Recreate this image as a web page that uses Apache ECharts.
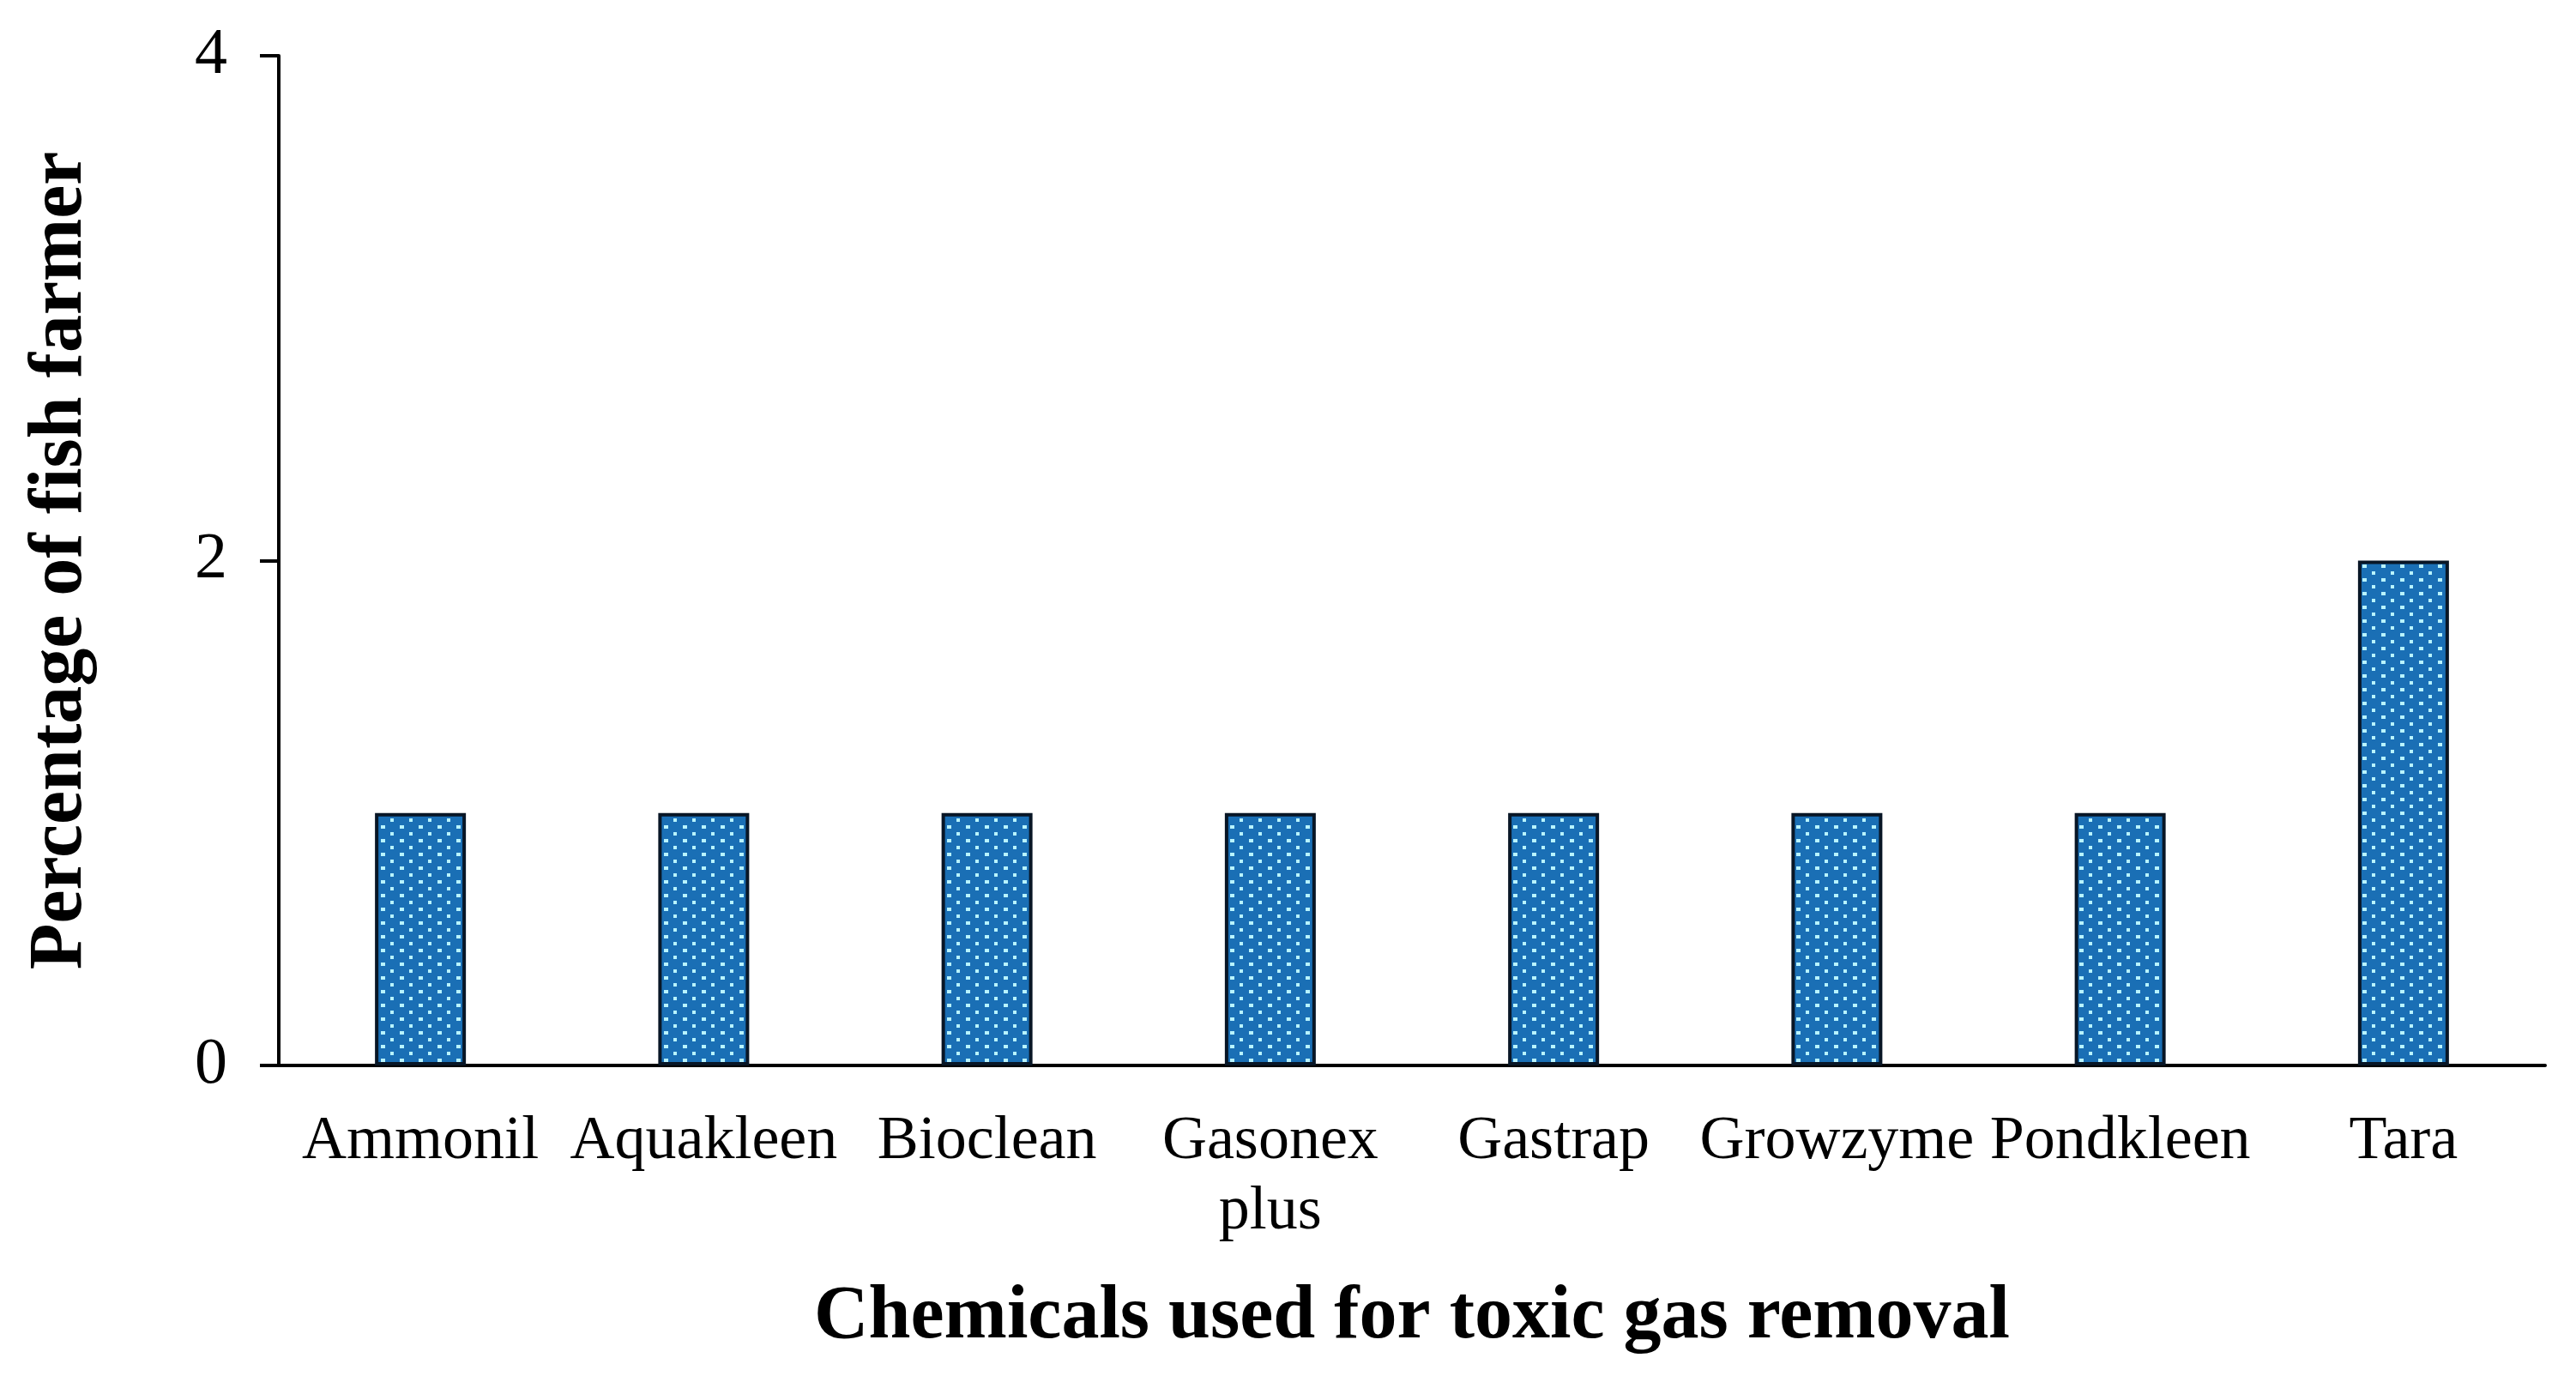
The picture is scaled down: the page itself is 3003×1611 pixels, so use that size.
<!DOCTYPE html>
<html>
<head>
<meta charset="utf-8">
<script src="https://cdn.jsdelivr.net/npm/echarts@6/dist/echarts.min.js"></script>
<style>
  html, body { margin: 0; padding: 0; background: #fff; }
  #chart { width: 3003px; height: 1611px; }
</style>
</head>
<body>
<div id="chart"></div>
<script>
const categories = ['Ammonil', 'Aquakleen', 'Bioclean', 'Gasonex plus', 'Gastrap', 'Growzyme', 'Pondkleen', 'Tara']
const values = [1, 1, 1, 1, 1, 1, 1, 2]
const yTicks = [0, 2, 4]

// dotted fill like the original
function makeDots() {
  const c = document.createElement('canvas')
  c.width = 22
  c.height = 16
  const g = c.getContext('2d')
  g.fillStyle = '#1a6fb5'
  g.fillRect(0, 0, 22, 16)
  g.fillStyle = '#b8f4ff'
  g.fillRect(4, 2, 5, 4)
  g.fillRect(15, 10, 4, 4)
  return c
}

const chart = echarts.init(document.getElementById('chart'))
const serif = 'Liberation Serif, Times New Roman, serif'

chart.setOption({
  animation: false,
  grid: { left: 325, right: 36, top: 65, bottom: 369 },
  xAxis: {
    type: 'category',
    data: categories,
    name: 'Chemicals used for toxic gas removal',
    nameLocation: 'middle',
    nameGap: 250,
    nameTextStyle: { fontFamily: serif, fontWeight: 'bold', fontSize: 88, color: '#000' },
    axisLine: { lineStyle: { color: '#000', width: 4 } },
    axisTick: { length: 22, lineStyle: { color: '#000', width: 4 } },
    axisLabel: {
      interval: 0,
      margin: 48,
      fontFamily: serif,
      fontSize: 72,
      lineHeight: 82,
      color: '#000',
      formatter: v => v.replace(' ', '\n'),
    },
  },
  yAxis: {
    type: 'value',
    min: yTicks[0],
    max: yTicks[yTicks.length - 1],
    interval: 2,
    name: 'Percentage of fish farmer',
    nameLocation: 'middle',
    nameGap: 210,
    nameTextStyle: { fontFamily: serif, fontWeight: 'bold', fontSize: 88, color: '#000' },
    splitLine: { show: false },
    axisLine: { show: true, lineStyle: { color: '#000', width: 4 } },
    axisTick: { show: true, length: 22, lineStyle: { color: '#000', width: 4 } },
    axisLabel: { margin: 60, fontFamily: serif, fontSize: 76, color: '#000' },
  },
  series: [
    {
      type: 'bar',
      data: values,
      barWidth: 106,
      itemStyle: {
        color: { image: makeDots(), repeat: 'repeat' },
        borderColor: '#081626',
        borderWidth: 4,
      },
    },
  ],
})
</script>
</body>
</html>
